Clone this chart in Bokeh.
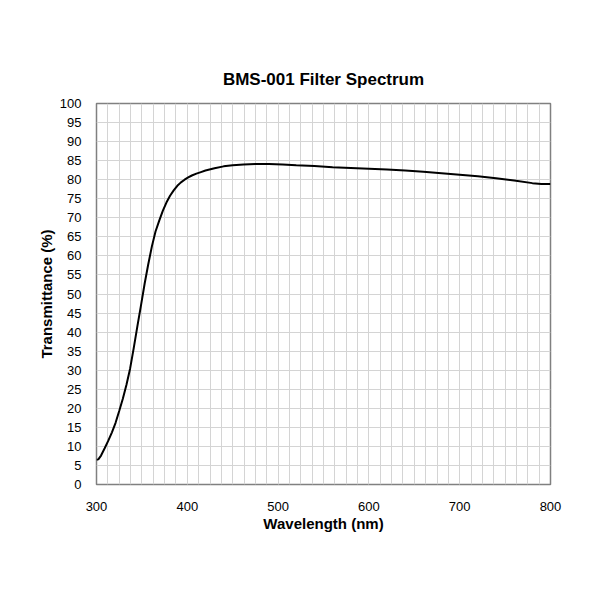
from bokeh.plotting import figure
from bokeh.models import Range1d, SingleIntervalTicker
from bokeh.embed import file_html
from bokeh.resources import INLINE

longitud_onda = [300, 302, 305, 309, 313, 317, 321, 325, 329, 333, 337, 341, 345, 349,
                 353, 357, 361, 365, 369, 373, 377, 381, 385, 389, 393, 397, 401, 405,
                 410, 415, 420, 430, 440, 450, 462, 475, 490, 505, 520, 540, 560, 580,
                 600, 620, 640, 660, 680, 700, 720, 740, 760, 780, 790, 800]
transmitancia = [6.5, 6.6, 7.6, 9.5, 11.5, 13.7, 16.2, 19.3, 22.5, 26.2, 30.4, 35.8,
                 41.5, 47.0, 52.7, 57.8, 62.5, 66.4, 69.2, 71.8, 74.0, 75.8, 77.2, 78.4,
                 79.3, 80.0, 80.6, 81.1, 81.6, 82.0, 82.4, 83.0, 83.5, 83.8, 84.0, 84.1,
                 84.1, 84.0, 83.8, 83.6, 83.3, 83.1, 82.9, 82.7, 82.4, 82.1, 81.7, 81.3,
                 80.9, 80.4, 79.8, 79.1, 78.9, 78.9]

titulo = "BMS-001 Filter Spectrum"
etiqueta_x = "Wavelength (nm)"
etiqueta_y = "Transmittance (%)"
fuente = "Liberation Sans"

p = figure(width=584, height=584, output_backend="svg", toolbar_location=None,
           x_range=Range1d(300, 800), y_range=Range1d(0, 100),
           min_border_left=96, min_border_right=34, min_border_top=103, min_border_bottom=100)

p.title.text = titulo
p.title.align = "center"
p.title.text_font = fuente
p.title.text_font_size = "17px"
p.title.text_font_style = "bold"
p.title.text_color = "black"
p.title.standoff = 29

p.line(longitud_onda, transmitancia, line_color="black", line_width=2)

p.xaxis.ticker = SingleIntervalTicker(interval=100, num_minor_ticks=8)
p.yaxis.ticker = SingleIntervalTicker(interval=5, num_minor_ticks=0)

for eje in [p.xaxis, p.yaxis]:
    eje.axis_line_color = None
    eje.major_tick_line_color = None
    eje.minor_tick_line_color = None
    eje.major_label_text_font = fuente
    eje.major_label_text_font_size = "13px"
    eje.major_label_text_color = "black"
    eje.axis_label_text_font = fuente
    eje.axis_label_text_font_size = "15px"
    eje.axis_label_text_font_style = "bold"
    eje.axis_label_text_color = "black"

p.xaxis.axis_label = etiqueta_x
p.yaxis.axis_label = etiqueta_y
p.xaxis.major_label_standoff = 11
p.yaxis.major_label_standoff = 9
p.xaxis.axis_label_standoff = 1
p.yaxis.axis_label_standoff = 2

p.xgrid.grid_line_color = "#d4d4d4"
p.xgrid.minor_grid_line_color = "#d4d4d4"
p.ygrid.grid_line_color = "#d4d4d4"
p.outline_line_color = "#808080"
p.outline_line_width = 1.5

open("out.html", "w").write(file_html(p, INLINE))
